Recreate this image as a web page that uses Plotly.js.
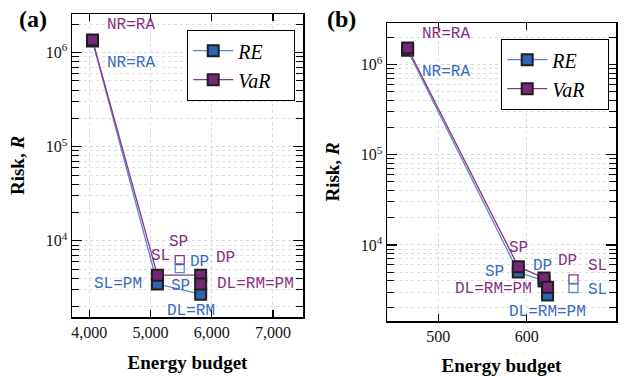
<!DOCTYPE html>
<html><head><meta charset="utf-8">
<script src="https://cdn.plot.ly/plotly-3.0.1.min.js"></script>
<style>html,body{margin:0;padding:0;background:#fff}#plot{width:627px;height:376px}</style>
</head><body><div id="plot"></div>
<script>
// ---------- data: panel (a) ----------
const reA_x = [4054, 5114, 5820];
const reA_y = [1.33e6, 3470, 2710];
const reA_lab = ['NR=RA', 'SL=PM', 'DL=RM'];
const varA_x = [4054, 5114, 5820, 5820];
const varA_y = [1.36e6, 4310, 4310, 3470];
const varA_lab = ['NR=RA', 'SL', 'DP', 'DL=RM=PM'];
const openReA_x = [5478];
const openReA_y = [5120];
const openReA_lab = ['DP'];
const openVarA_x = [5478];
const openVarA_y = [6240];
const openVarA_lab = ['SP'];
// ---------- data: panel (b) ----------
const reB_x = [465.3, 590.5, 619.6, 623.6];
const reB_y = [1.45e6, 5000, 3980, 2780];
const reB_lab = ['NR=RA', 'SP', 'DP', 'DL=RM=PM'];
const varB_x = [465.3, 590.5, 619.6, 623.6];
const varB_y = [1.53e6, 5740, 4300, 3390];
const varB_lab = ['NR=RA', 'SP', 'DP', 'DL=RM=PM'];
const openReB_x = [652.9];
const openReB_y = [3330];
const openReB_lab = ['SL'];
const openVarB_x = [652.9];
const openVarB_y = [4140];
const openVarB_lab = ['SL'];
// ---------- tick labels ----------
const xTicksA = [4000, 5000, 6000, 7000];
const xTickTextA = ['4,000', '5,000', '6,000', '7,000'];
const xTicksB = [500, 600, 700];
const xTickTextB = ['500', '600', '700'];
const yTicks = [1e4, 1e5, 1e6];
const yTickText = ['10<sup>4</sup>', '10<sup>5</sup>', '10<sup>6</sup>'];
const seriesNames = ['RE', 'VaR'];

// ---------- styles ----------
const BLUE_FILL = '#2f63b3', BLUE_LINE = '#5687d2', BLUE_TXT = '#3a6bc2';
const PURP_FILL = '#7a2677', PURP_LINE = '#8a3588', PURP_TXT = '#862f80';
const EDGE = '#1e1e1e';
const SERIF = '"Liberation Serif", "DejaVu Serif", serif';
const MONO = '"Courier New", "Liberation Mono", monospace';
const legName = (s, pad) => '<i>' + s + '</i>' + '&nbsp;'.repeat(pad);

const yMinor = [];
for (let d = 3; d <= 6; d++) for (let m = 2; m <= 9; m++) yMinor.push(m * Math.pow(10, d));

function lineTrace(x, y, name, fill, lc, xa, ya, leg, show) {
  return {x, y, name, type: 'scatter', mode: 'lines+markers', xaxis: xa, yaxis: ya, legend: leg, showlegend: show,
    line: {color: lc, width: 1.3},
    marker: {symbol: 'square', size: 11, color: fill, line: {color: EDGE, width: 2}}};
}
function openTrace(x, y, col, xa, ya) {
  return {x, y, type: 'scatter', mode: 'markers', xaxis: xa, yaxis: ya, showlegend: false,
    marker: {symbol: 'square-open', size: 9, color: col, line: {color: col, width: 1.3}}};
}

const data = [
  lineTrace(reA_x, reA_y, legName(seriesNames[0], 5), BLUE_FILL, BLUE_LINE, 'x', 'y', 'legend', true),
  lineTrace(varA_x, varA_y, legName(seriesNames[1], 3), PURP_FILL, PURP_LINE, 'x', 'y', 'legend', true),
  openTrace(openVarA_x, openVarA_y, PURP_LINE, 'x', 'y'),
  openTrace(openReA_x, openReA_y, BLUE_LINE, 'x', 'y'),
  lineTrace(reB_x, reB_y, legName(seriesNames[0], 5), BLUE_FILL, BLUE_LINE, 'x2', 'y2', 'legend2', true),
  lineTrace(varB_x, varB_y, legName(seriesNames[1], 3), PURP_FILL, PURP_LINE, 'x2', 'y2', 'legend2', true),
  openTrace(openVarB_x, openVarB_y, PURP_LINE, 'x2', 'y2'),
  openTrace(openReB_x, openReB_y, BLUE_LINE, 'x2', 'y2'),
];

const annotations = [];
function addLabels(xs, ys, labs, offs, col, xr, yr) {
  labs.forEach((t, i) => {
    if (!offs[i]) return;
    annotations.push({x: xs[i], y: Math.log10(ys[i]), xref: xr, yref: yr, text: t, showarrow: false,
      xshift: offs[i][0], yshift: -offs[i][1], font: {family: MONO, size: 16, color: col}});
  });
}
addLabels(reA_x, reA_y, reA_lab, [[39, 22], [-39, 0], [-10, 17]], BLUE_TXT, 'x', 'y');
addLabels(varA_x, varA_y, varA_lab, [[39, -15], [3, -19], [25, -17], [55, 0]], PURP_TXT, 'x', 'y');
addLabels(openVarA_x, openVarA_y, openVarA_lab, [[-1, -18]], PURP_TXT, 'x', 'y');
addLabels(openReA_x, openReA_y, openReA_lab, [[20, -6]], BLUE_TXT, 'x', 'y');
addLabels(openReA_x, openReA_y, ['SP'], [[1, 18]], BLUE_TXT, 'x', 'y');
addLabels(reB_x, reB_y, reB_lab, [[38, 22], [-24, 0], [-2, -15], [0, 17]], BLUE_TXT, 'x2', 'y2');
addLabels(varB_x, varB_y, varB_lab, [[38, -14], [0, -19], [23, -17], [-54, 2]], PURP_TXT, 'x2', 'y2');
addLabels(openVarB_x, openVarB_y, openVarB_lab, [[24, -13]], PURP_TXT, 'x2', 'y2');
addLabels(openReB_x, openReB_y, openReB_lab, [[24, 2]], BLUE_TXT, 'x2', 'y2');

annotations.push({xref: 'paper', yref: 'paper', x: 33 / 627, y: 1 - 19 / 376, xanchor: 'center', yanchor: 'middle',
  text: '<b>(a)</b>', showarrow: false, font: {family: SERIF, size: 24, color: '#000'}});
annotations.push({xref: 'paper', yref: 'paper', x: 341 / 627, y: 1 - 19 / 376, xanchor: 'center', yanchor: 'middle',
  text: '<b>(b)</b>', showarrow: false, font: {family: SERIF, size: 24, color: '#000'}});

const gridCommon = {showgrid: true, gridcolor: '#d8d8d8', griddash: 'dot', gridwidth: 1};
function xAxis(dom, range, tv, tt, anchor) {
  return Object.assign({domain: dom, range, tickvals: tv, ticktext: tt, anchor,
    ticks: 'inside', ticklen: 7, tickcolor: '#000', tickwidth: 1.2,
    showline: true, linecolor: '#000', linewidth: 1.5, mirror: 'ticks', zeroline: false,
    tickfont: {family: SERIF, size: 16, color: '#111'},
    title: {text: '<b>Energy budget</b>', font: {family: SERIF, size: 19, color: '#000'}, standoff: 16}}, gridCommon);
}
function yAxis(dom, range, anchor) {
  return Object.assign({domain: dom, type: 'log', range, tickvals: yTicks, ticktext: yTickText, anchor,
    ticks: 'inside', ticklen: 10, tickcolor: '#000', tickwidth: 1.2,
    showline: true, linecolor: '#000', linewidth: 1.5, mirror: 'ticks', zeroline: false,
    tickfont: {family: SERIF, size: 16, color: '#111'},
    minor: {tickvals: yMinor, ticks: 'inside', ticklen: 7, tickcolor: '#000', tickwidth: 1,
      showgrid: true, gridcolor: '#dedede', griddash: 'dot', gridwidth: 1},
    title: {text: '<b>Risk, <i>R</i></b>', font: {family: SERIF, size: 19, color: '#000'}, standoff: 16}}, gridCommon);
}

const legendCommon = {bgcolor: '#fff', bordercolor: '#000', borderwidth: 1.2, xanchor: 'left', yanchor: 'top',
  font: {family: SERIF, size: 20, color: '#000'}, itemwidth: 40, tracegroupgap: 0};

const layout = {
  width: 627, height: 376, margin: {l: 0, r: 0, t: 0, b: 0},
  paper_bgcolor: '#fff', plot_bgcolor: '#fff',
  xaxis: xAxis([72 / 627, 303 / 627], [3720, 7490], xTicksA, xTickTextA, 'y'),
  yaxis: yAxis([1 - 317 / 376, 1 - 14 / 376], [3.19, 6.41], 'x'),
  xaxis2: xAxis([387 / 627, 616 / 627], [442, 701], xTicksB, xTickTextB, 'y2'),
  yaxis2: yAxis([1 - 321 / 376, 1 - 23 / 376], [3.156, 6.463], 'x2'),
  legend: Object.assign({x: 187 / 627, y: 1 - 30 / 376}, legendCommon),
  legend2: Object.assign({x: 501 / 627, y: 1 - 39 / 376}, legendCommon),
  annotations,
};
Plotly.newPlot('plot', data, layout, {staticPlot: true, displayModeBar: false});
</script></body></html>
